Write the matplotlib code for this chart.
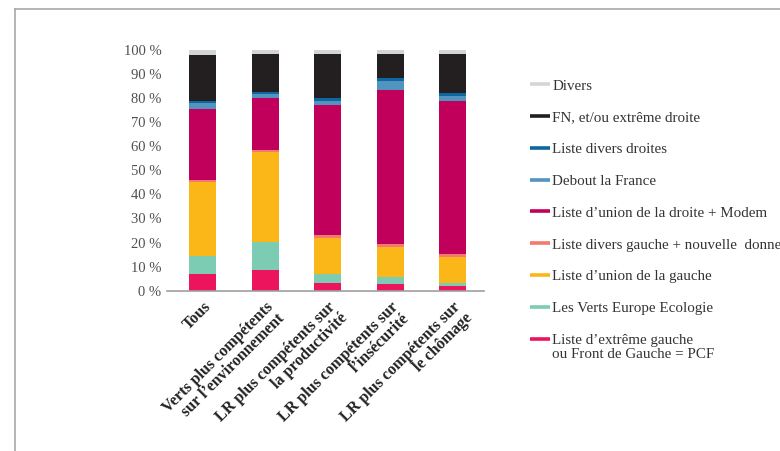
import matplotlib
matplotlib.use("Agg")
import matplotlib.pyplot as plt
from matplotlib.lines import Line2D
from matplotlib.text import Annotation
import numpy as np

categories = [
    "Tous",
    "Verts plus compétents\nsur l\u2019environnement",
    "LR plus compétents sur\nla productivité",
    "LR plus compétents sur\nl\u2019insécurité",
    "LR plus compétents sur\nle chômage",
]

# series, bottom to top
series_names = [
    "Liste d\u2019extrême gauche",
    "Les Verts Europe Ecologie",
    "Liste d\u2019union de la gauche",
    "Liste divers gauche + nouvelle  donne",
    "Liste d\u2019union de la droite + Modem",
    "Debout la France",
    "Liste divers droites",
    "FN, et/ou extrême droite",
    "Divers",
]
extreme_gauche = [6.9, 8.6, 3.2, 2.8, 1.9]
verts = [7.5, 11.6, 3.7, 2.9, 1.3]
union_gauche = [30.8, 37.4, 15.0, 12.4, 10.8]
divers_gauche = [0.8, 0.8, 1.2, 1.3, 1.2]
union_droite = [29.5, 21.7, 54.0, 64.0, 63.6]
debout = [2.5, 1.6, 1.7, 3.7, 2.1]
divers_droites = [0.8, 0.8, 1.3, 1.3, 1.2]
fn = [19.1, 15.8, 18.2, 9.9, 16.2]
divers = [2.1, 1.7, 1.7, 1.7, 1.7]

series_values = [extreme_gauche, verts, union_gauche, divers_gauche,
                 union_droite, debout, divers_droites, fn, divers]
colors = ["#ec145c", "#7ccbb3", "#fbb617", "#f27a6e", "#c1005b",
          "#5094bf", "#0d67a0", "#231f20", "#d4d5d7"]

last_line_extra = "ou Front de Gauche = PCF"

yticks = [0, 10, 20, 30, 40, 50, 60, 70, 80, 90, 100]
ytick_labels = ["0 %", "10 %", "20 %", "30 %", "40 %", "50 %", "60 %",
                "70 %", "80 %", "90 %", "100 %"]

W, H = 780, 451
fig = plt.figure(figsize=(W / 100, H / 100), dpi=100)
ax = fig.add_axes([167 / W, 1 - 290.7 / H, 317 / W, (290.7 - 50) / H])

x = np.arange(len(categories))
bottom = np.zeros(len(categories))
for vals, col in zip(series_values, colors):
    ax.bar(x, vals, width=0.432, bottom=bottom, color=col, linewidth=0)
    bottom += np.array(vals)

ax.set_xlim(-0.57, 4.5)
ax.set_ylim(0, 100)
ax.set_yticks(yticks)
ax.set_yticklabels(ytick_labels, family="Liberation Serif", fontsize=10.5,
                   color="#505050")
ax.set_xticks(x)
ax.set_xticklabels(categories, family="Liberation Serif", fontsize=11.5,
                   fontweight="bold", color="#222222", rotation=45,
                   ha="right", va="top", rotation_mode="anchor",
                   multialignment="right", linespacing=1.0)
ax.tick_params(axis="y", length=0, pad=4)
ax.tick_params(axis="x", length=0, pad=6)
for s in ["top", "right", "left"]:
    ax.spines[s].set_visible(False)
ax.spines["bottom"].set_color("#a0a0a0")
ax.spines["bottom"].set_linewidth(1.2)

handles = [Line2D([0], [0], color=c, lw=2.6, solid_capstyle="butt")
           for c in colors[::-1]]
labels = series_names[::-1]
leg = fig.legend(handles, labels, loc="upper left",
                 bbox_to_anchor=(530 / W, 1 - 79 / H),
                 frameon=False, borderpad=0, borderaxespad=0,
                 handlelength=1.35, handletextpad=0.15, labelspacing=1.22,
                 prop={"family": "Liberation Serif", "size": 10.8})
for t in leg.get_texts():
    t.set_color("#333333")

ann = Annotation(last_line_extra, xy=(0, 0), xycoords=leg.get_texts()[-1],
                 xytext=(0, -0.5), textcoords="offset points", ha="left",
                 va="top", family="Liberation Serif", fontsize=10.8,
                 color="#333333", annotation_clip=False)
ann.set_zorder(10)
fig.add_artist(ann)

# outer frame lines
fig.add_artist(Line2D([15.5 / W, 1], [1 - 8.7 / H, 1 - 8.7 / H],
                      transform=fig.transFigure, color="#a8a8a8", lw=1.2))
fig.add_artist(Line2D([15.5 / W, 15.5 / W], [0, 1 - 8.7 / H],
                      transform=fig.transFigure, color="#a8a8a8", lw=1.2))

fig.savefig("out.png", dpi=100)
